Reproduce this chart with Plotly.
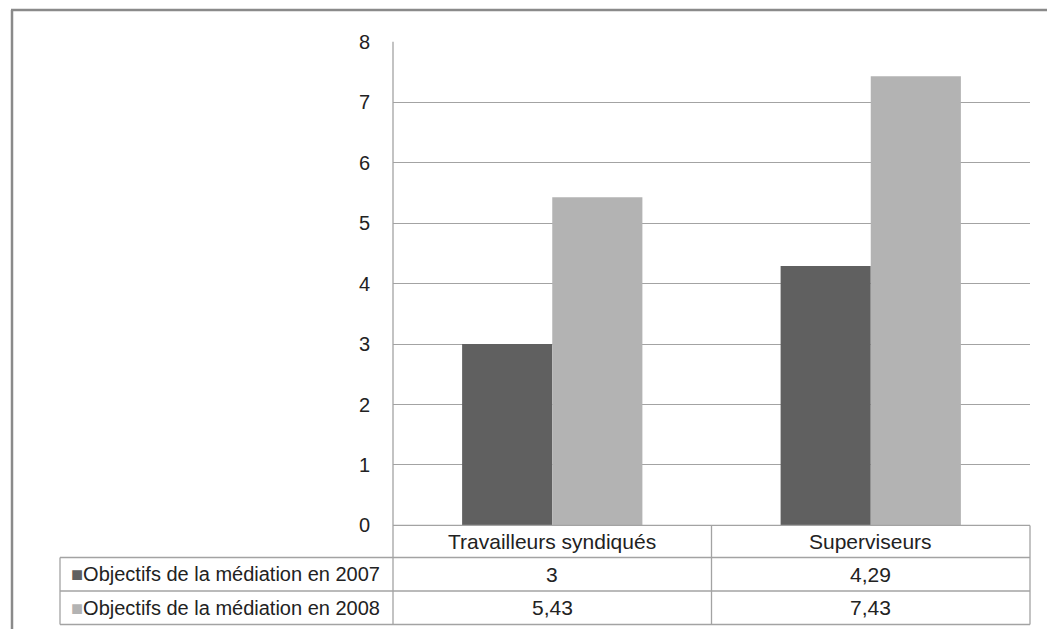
import plotly.graph_objects as go

# Chart data
categories = ["Travailleurs syndiqués", "Superviseurs"]
series_names = ["Objectifs de la médiation en 2007", "Objectifs de la médiation en 2008"]
values_2007 = [3, 4.29]
values_2008 = [5.43, 7.43]
y_ticks = [0, 1, 2, 3, 4, 5, 6, 7, 8]

W, H = 1047, 629
DARK = "#606060"
LIGHT = "#b3b3b3"
GRID = "#a3a3a3"
FONT = "Liberation Sans, Arial, sans-serif"

# pixel -> paper helpers
def px(x):
    return x / W

def py(y):
    return 1 - y / H

# plot area in pixels
X0, X1 = 393, 1030
Y_TOP, Y_ZERO = 41.8, 525.4
COL_MID = (X0 + X1) / 2
ROW_Y = [525.4, 557.5, 591, 624.5]
TABLE_LEFT = 60

def fmt(v):
    return f"{v:g}".replace(".", ",")

fig = go.Figure()
fig.add_trace(go.Bar(x=categories, y=values_2007, name=series_names[0],
                     marker=dict(color=DARK, line=dict(width=0))))
fig.add_trace(go.Bar(x=categories, y=values_2008, name=series_names[1],
                     marker=dict(color=LIGHT, line=dict(width=0))))

shapes = []

def hline(y, xa, xb, color=GRID, w=1.3):
    shapes.append(dict(type="line", xref="paper", yref="paper",
                       x0=px(xa), x1=px(xb), y0=py(y), y1=py(y),
                       line=dict(color=color, width=w)))

def vline(x, ya, yb, color=GRID, w=1.3):
    shapes.append(dict(type="line", xref="paper", yref="paper",
                       x0=px(x), x1=px(x), y0=py(ya), y1=py(yb),
                       line=dict(color=color, width=w)))

# data table grid under the plot
hline(ROW_Y[0], X0, X1)
for y in ROW_Y[1:]:
    hline(y, TABLE_LEFT, X1)
vline(TABLE_LEFT, ROW_Y[1], ROW_Y[3])
vline(X0, Y_TOP, ROW_Y[3])
vline(COL_MID, ROW_Y[0], ROW_Y[3])
vline(X1, ROW_Y[0], ROW_Y[3])

# outer frame (top and left edges)
hline(10, 11, W, color="#8a8a8a", w=2.5)
vline(12, 10, H, color="#8a8a8a", w=2.5)

annotations = []
col_centers = [(X0 + COL_MID) / 2, (COL_MID + X1) / 2]
row_centers = [(ROW_Y[i] + ROW_Y[i + 1]) / 2 for i in range(3)]

for cx, cat in zip(col_centers, categories):
    annotations.append(dict(x=px(cx), y=py(row_centers[0]), xref="paper", yref="paper",
                            text=cat, showarrow=False, xanchor="center", yanchor="middle",
                            font=dict(family=FONT, size=21, color="#222")))

for r, (vals, name, color) in enumerate(zip([values_2007, values_2008], series_names, [DARK, LIGHT])):
    yc = py(row_centers[r + 1])
    for cx, v in zip(col_centers, vals):
        annotations.append(dict(x=px(cx), y=yc, xref="paper", yref="paper",
                                text=fmt(v), showarrow=False, xanchor="center", yanchor="middle",
                                font=dict(family=FONT, size=21, color="#222")))
    annotations.append(dict(x=px(69), y=yc, xref="paper", yref="paper",
                            text=f"<span style='color:{color}'>■</span>{name}",
                            showarrow=False, xanchor="left", yanchor="middle",
                            font=dict(family=FONT, size=20, color="#222")))

fig.update_layout(
    width=W, height=H,
    margin=dict(l=0, r=0, t=0, b=0, autoexpand=False),
    paper_bgcolor="white", plot_bgcolor="white",
    barmode="group", bargap=0.434, bargroupgap=0,
    showlegend=False,
    font=dict(family=FONT, color="#222"),
    xaxis=dict(domain=[px(X0), px(X1)], range=[-0.5, 1.5], showticklabels=False,
               showgrid=False, zeroline=False, showline=False, ticks=""),
    yaxis=dict(domain=[py(Y_ZERO), py(Y_TOP)], range=[0, 8], tickvals=y_ticks,
               showgrid=True, gridcolor=GRID, gridwidth=1.3, zeroline=False,
               showline=False, ticks="outside", ticklen=18, tickcolor="rgba(0,0,0,0)",
               tickfont=dict(family=FONT, size=20, color="#222")),
    shapes=shapes,
    annotations=annotations,
)

fig.write_html("out.html")
